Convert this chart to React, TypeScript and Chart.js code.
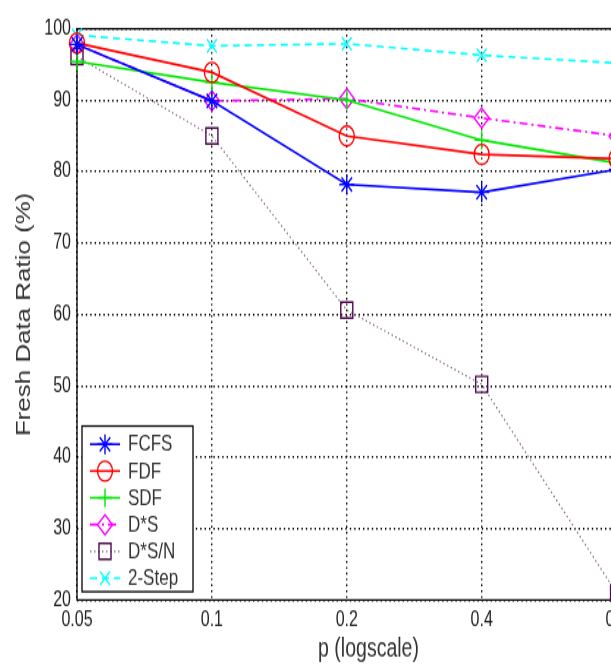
import React, { useEffect, useRef } from 'react';
import { Chart, registerables } from 'chart.js';
import * as helpers from 'chart.js/helpers';

Chart.register(...registerables);

// ---- data ----
const xValues = [0.05, 0.1, 0.2, 0.4, 0.8];
const xTickValues = [0.05, 0.1, 0.2, 0.4, 0.8];
const yMin = 20;
const yMax = 100;
const yStep = 10;
const seriesLabels = ['FCFS', 'FDF', 'SDF', 'D*S', 'D*S/N', '2-Step'];
const fcfs = [97.8, 89.9, 78.2, 77.1, 80.3];
const fdf = [98.0, 93.9, 85.0, 82.4, 81.8];
const sdf = [95.4, 92.5, 90.0, 84.4, 81.2];
const dStarS = [97.8, 89.9, 90.2, 87.5, 85.0];
const dStarSN = [96.1, 85.0, 60.6, 50.2, 21.0];
const twoStep = [99.1, 97.6, 97.9, 96.3, 95.2];
const xTitle = 'p (logscale)';
const yTitle = 'Fresh Data Ratio (%)';

// ---- layout constants ----
const W = 700;
const H = 495;
const S = 1.3292; // vertical stretch of the original figure

const toPts = (arr: number[]) => arr.map((y, i) => ({ x: xValues[i], y }));

const framePlugin = {
  id: 'matlabFrame',
  beforeDatasetsDraw(chart: any) {
    const { ctx, chartArea: a } = chart;
    ctx.save();
    ctx.strokeStyle = '#000';
    ctx.lineWidth = 1.3;
    ctx.setLineDash([]);
    ctx.strokeRect(a.left, a.top, a.right - a.left, a.bottom - a.top);
    ctx.restore();
  },
  afterDraw(chart: any) {
    const { ctx, chartArea: a } = chart;
    ctx.save();
    // axis titles
    ctx.fillStyle = '#333';
    ctx.font = '19.5px "Liberation Sans", Arial, sans-serif';
    ctx.textAlign = 'center';
    ctx.textBaseline = 'middle';
    ctx.fillText(xTitle, (a.left + a.right) / 2, 482.5);
    ctx.save();
    ctx.translate(17, (a.top + a.bottom) / 2);
    ctx.rotate(-Math.PI / 2);
    ctx.fillText(yTitle, 0, 0);
    ctx.restore();

    // legend box
    const bx = 74, by = 314.5, bw = 111, bh = 124.6;
    ctx.fillStyle = '#fff';
    ctx.fillRect(bx, by, bw, bh);
    ctx.strokeStyle = '#000';
    ctx.lineWidth = 1.3;
    ctx.strokeRect(bx, by, bw, bh);
    const y0 = 328.2;
    const dy = 20.15;
    chart.data.datasets.forEach((ds: any, i: number) => {
      const y = y0 + i * dy;
      ctx.strokeStyle = ds.borderColor;
      ctx.lineWidth = ds.borderWidth;
      ctx.setLineDash(ds.borderDash || []);
      ctx.beginPath();
      ctx.moveTo(82, y);
      ctx.lineTo(112, y);
      ctx.stroke();
      ctx.setLineDash([]);
      ctx.strokeStyle = ds.pointBorderColor;
      ctx.fillStyle = 'rgba(0,0,0,0)';
      ctx.lineWidth = ds.pointBorderWidth;
      helpers.drawPoint(ctx, {
        pointStyle: ds.pointStyle,
        radius: ds.pointRadius,
        rotation: 0,
        borderWidth: ds.pointBorderWidth,
      } as any, 97, y);
      ctx.fillStyle = '#333';
      ctx.font = '17px "Liberation Sans", Arial, sans-serif';
      ctx.textAlign = 'left';
      ctx.textBaseline = 'middle';
      ctx.fillText(ds.label, 120, y + 0.5);
    });
    ctx.restore();
  },
};

function makeDataset(label: string, values: number[], color: string, pointStyle: string, dash: number[], radius: number, pointColor?: string, lineWidth = 1.6) {
  return {
    label,
    data: toPts(values),
    borderColor: color,
    backgroundColor: 'rgba(0,0,0,0)',
    borderWidth: lineWidth,
    borderDash: dash,
    pointStyle,
    pointRadius: radius,
    pointBorderColor: pointColor || color,
    pointBackgroundColor: 'rgba(0,0,0,0)',
    pointBorderWidth: 1.4,
    tension: 0,
    fill: false,
    clip: false as any,
  };
}

export default function App() {
  const ref = useRef<HTMLCanvasElement>(null);
  useEffect(() => {
    const canvas = ref.current!;
    const tickFont = { family: '"Liberation Sans", Arial, sans-serif', size: 16 };
    const gridOpts = {
      color: '#000',
      lineWidth: 1.4,
      drawTicks: false,
      tickLength: 0,
    };
    const chart = new Chart(canvas, {
      type: 'line',
      data: {
        datasets: [
          makeDataset(seriesLabels[0], fcfs, '#0000ff', 'star', [], 7.5),
          makeDataset(seriesLabels[1], fdf, '#ff0000', 'circle', [], 7.5),
          makeDataset(seriesLabels[2], sdf, '#00e600', 'cross', [], 7),
          makeDataset(seriesLabels[3], dStarS, '#ff00ff', 'rectRot', [8, 4, 2, 4], 7.5),
          makeDataset(seriesLabels[4], dStarSN, '#8c6a8c', 'rect', [1.5, 2.5], 8.5, '#4d0a4d', 1.2),
          makeDataset(seriesLabels[5], twoStep, '#00ffff', 'crossRot', [7, 5], 7),
        ] as any,
      },
      plugins: [framePlugin],
      options: {
        animation: false,
        responsive: false,
        devicePixelRatio: 1,
        layout: { padding: { top: 5.6, right: W - 652, bottom: 0, left: 0 } },
        plugins: {
          legend: { display: false },
          tooltip: { enabled: false },
          title: { display: false },
        },
        scales: {
          x: {
            type: 'logarithmic',
            min: 0.05,
            max: 1,
            afterBuildTicks: (s: any) => {
              s.ticks = xTickValues.map((v) => ({ value: v }));
            },
            afterFit: (s: any) => {
              s.height = H - 445.4;
            },
            ticks: {
              autoSkip: false,
              maxRotation: 0,
              padding: 6,
              color: '#222',
              font: tickFont,
              callback: (v: any) => String(v),
            },
            grid: gridOpts,
            border: { display: false, dash: [1.4, 3] },
          },
          y: {
            type: 'linear',
            min: yMin,
            max: yMax,
            afterFit: (s: any) => {
              s.width = 69;
            },
            ticks: {
              stepSize: yStep,
              padding: 6,
              color: '#222',
              font: tickFont,
            },
            grid: gridOpts,
            border: { display: false, dash: [1.4, 3] },
          },
        },
      } as any,
    });
    return () => chart.destroy();
  }, []);

  return (
    <div style={{ position: 'fixed', left: 0, top: 0, width: 611, height: 666, overflow: 'hidden', background: '#fff' }}>
      <canvas
        ref={ref}
        width={W}
        height={H}
        style={{
          position: 'absolute',
          left: 8,
          top: 8,
          width: `${W}px`,
          height: `${H}px`,
          display: 'block',
          transform: `scaleY(${S})`,
          transformOrigin: '0 0',
        }}
      />
    </div>
  );
}
